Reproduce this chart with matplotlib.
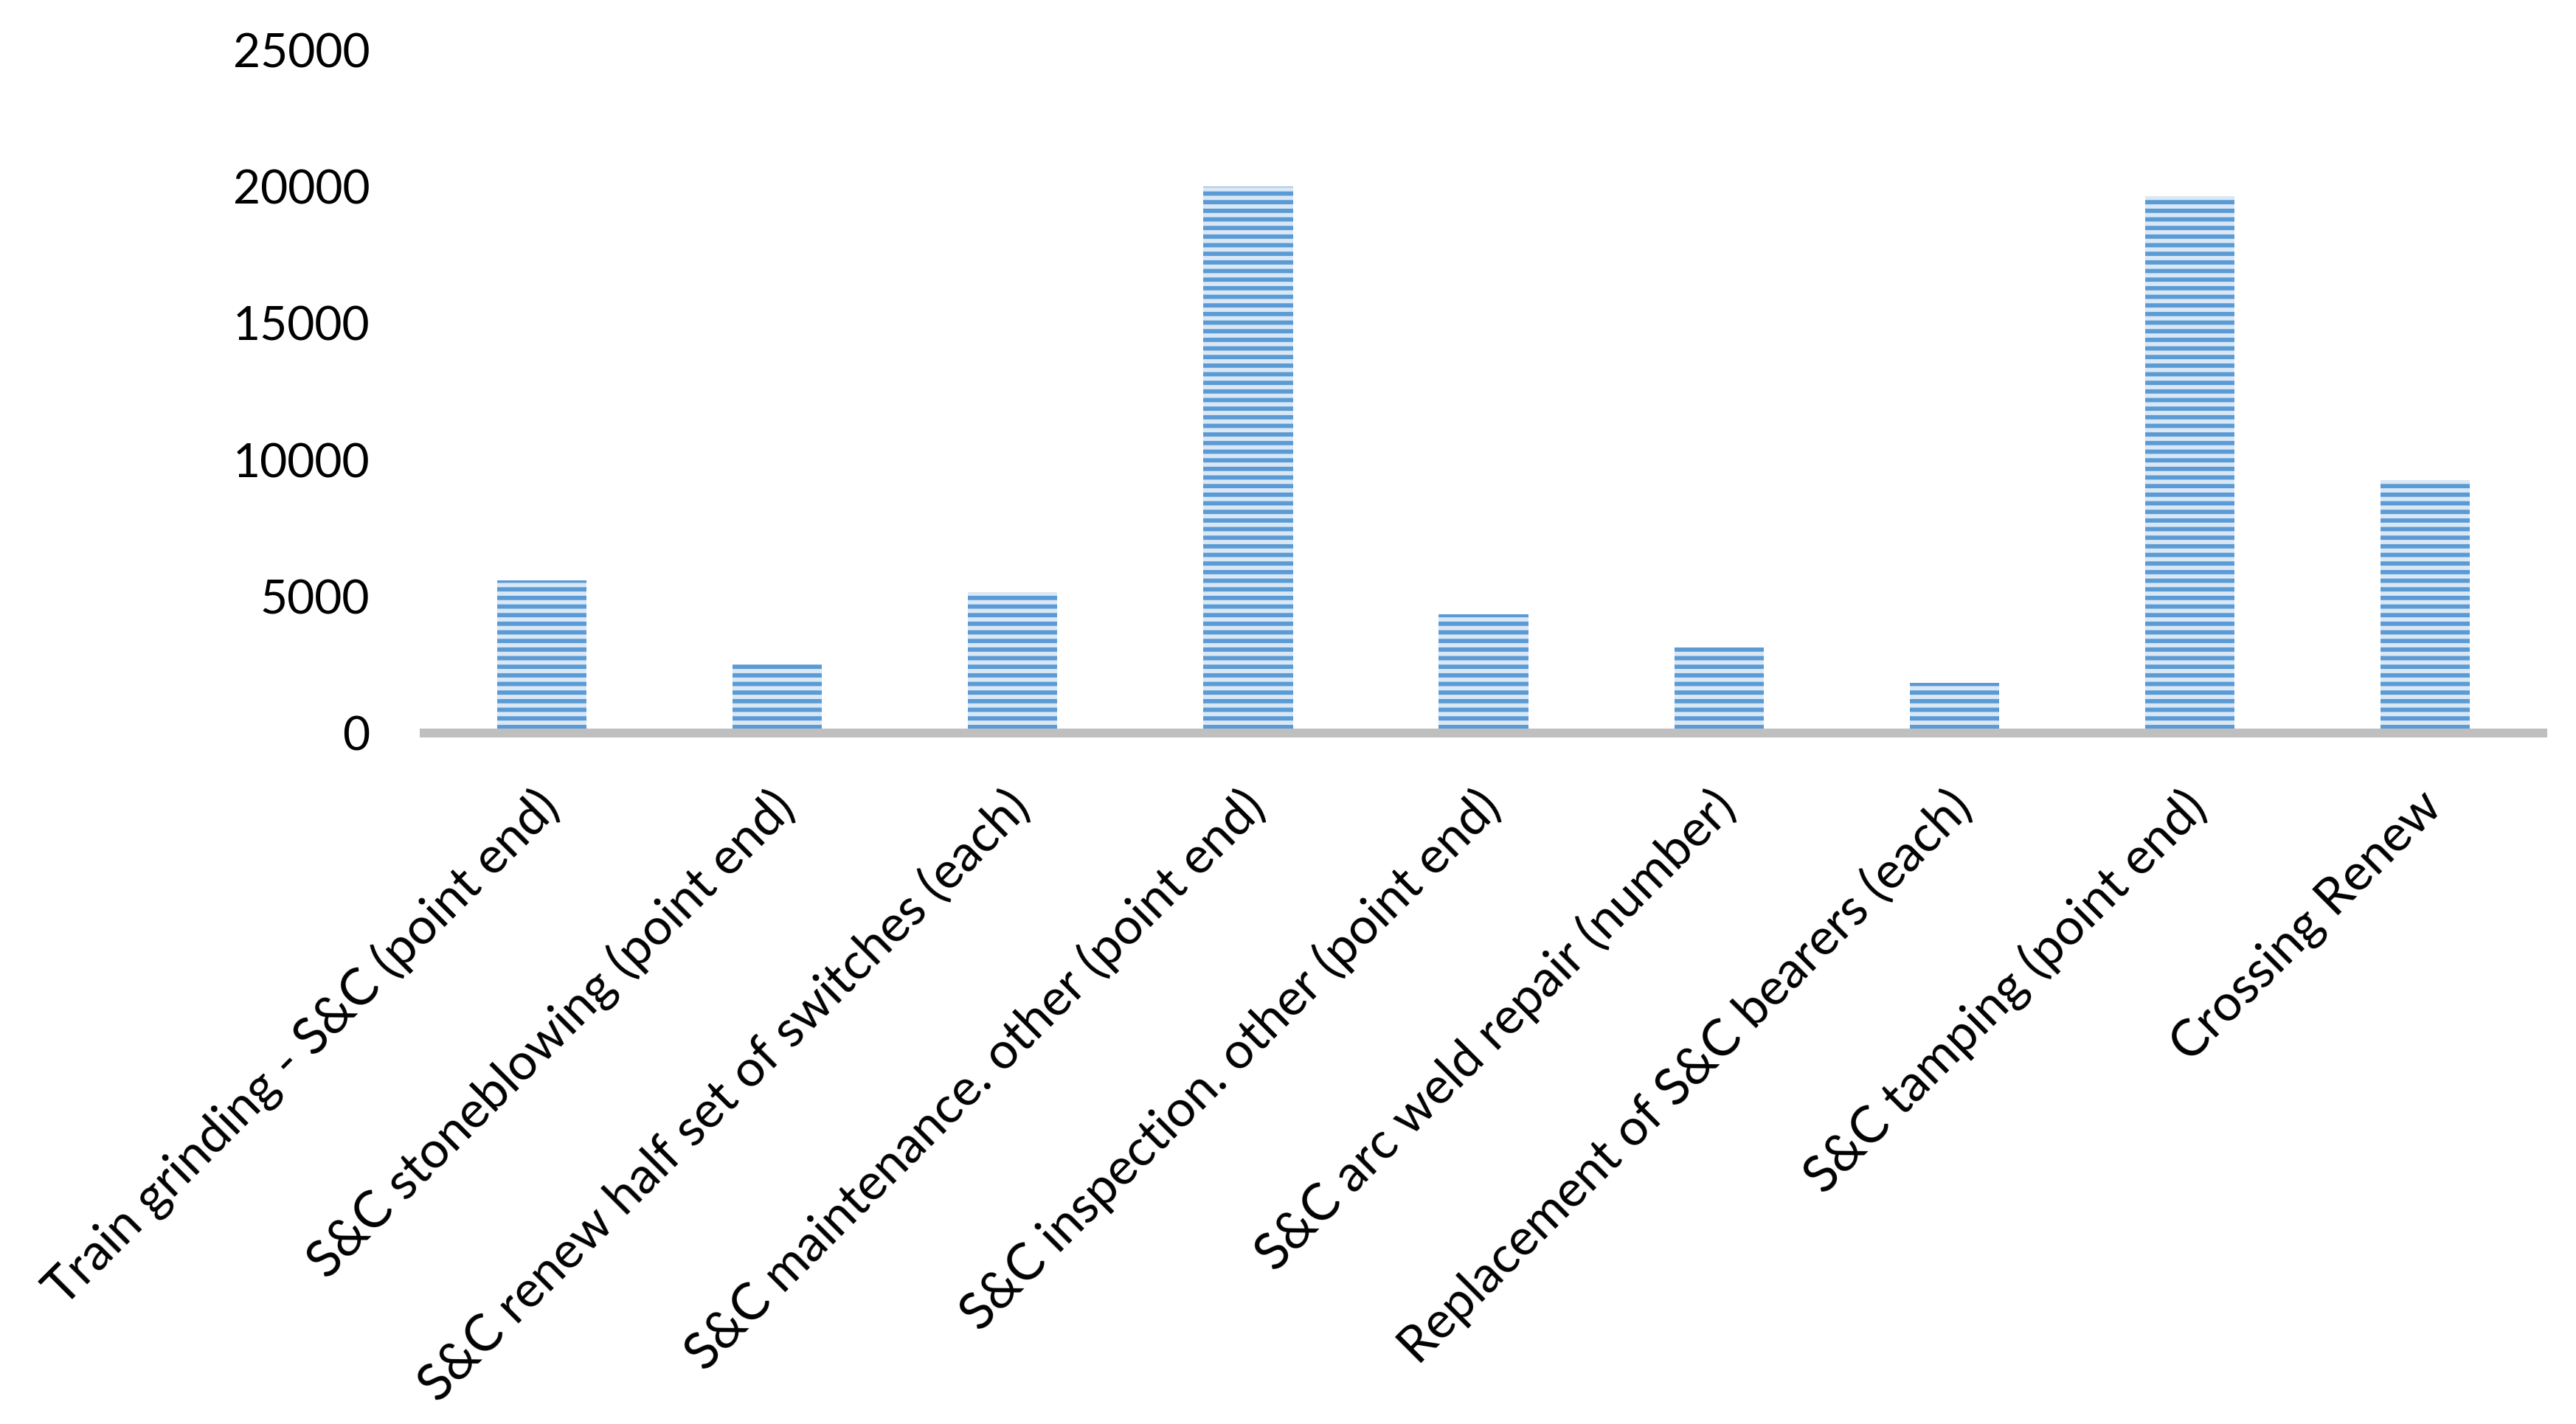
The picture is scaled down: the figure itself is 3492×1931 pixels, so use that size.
import matplotlib
matplotlib.use('Agg')
import matplotlib.pyplot as plt
import matplotlib.transforms as mtransforms

plt.rcParams['font.family'] = ['Lato', 'DejaVu Sans']
plt.rcParams['hatch.linewidth'] = 3.0

categories = ['Train grinding - S&C (point end)',
              'S&C stoneblowing (point end)',
              'S&C renew half set of switches (each)',
              'S&C maintenance. other (point end)',
              'S&C inspection. other (point end)',
              'S&C arc weld repair (number)',
              'Replacement of S&C bearers (each)',
              'S&C tamping (point end)',
              'Crossing Renew']
values = [5600, 2500, 5150, 20000, 4350, 3130, 1850, 19650, 9250]
yticks = [0, 5000, 10000, 15000, 20000, 25000]

dpi = 140
fig = plt.figure(figsize=(3492 / dpi, 1931 / dpi), dpi=dpi)
ax = fig.add_axes([0.1647, 0.4852, 0.8224, 0.4796])

x = list(range(len(categories)))
ax.bar(x, values, width=0.38, color='#dae7f5', edgecolor='#5b9bd5',
       linewidth=0, hatch='--', zorder=1)

ax.set_xlim(-0.5, len(categories) - 0.5)
ax.set_ylim(0, 25000)
ax.set_yticks(yticks)
ax.set_yticklabels([str(v) for v in yticks], fontsize=33)
ax.tick_params(axis='y', length=0, pad=38)

ax.set_xticks(x)
ax.set_xticklabels(categories, fontsize=35.5, rotation=45, ha='right',
                   va='center', rotation_mode='anchor')
ax.tick_params(axis='x', length=0, pad=46)
offset = mtransforms.ScaledTranslation(12 / dpi, 0, fig.dpi_scale_trans)
for lab in ax.get_xticklabels():
    lab.set_transform(lab.get_transform() + offset)

for s in ['top', 'right', 'left']:
    ax.spines[s].set_visible(False)
ax.spines['bottom'].set_color('#bfbfbf')
ax.spines['bottom'].set_linewidth(6.2)

fig.savefig('out.png', dpi=dpi)
